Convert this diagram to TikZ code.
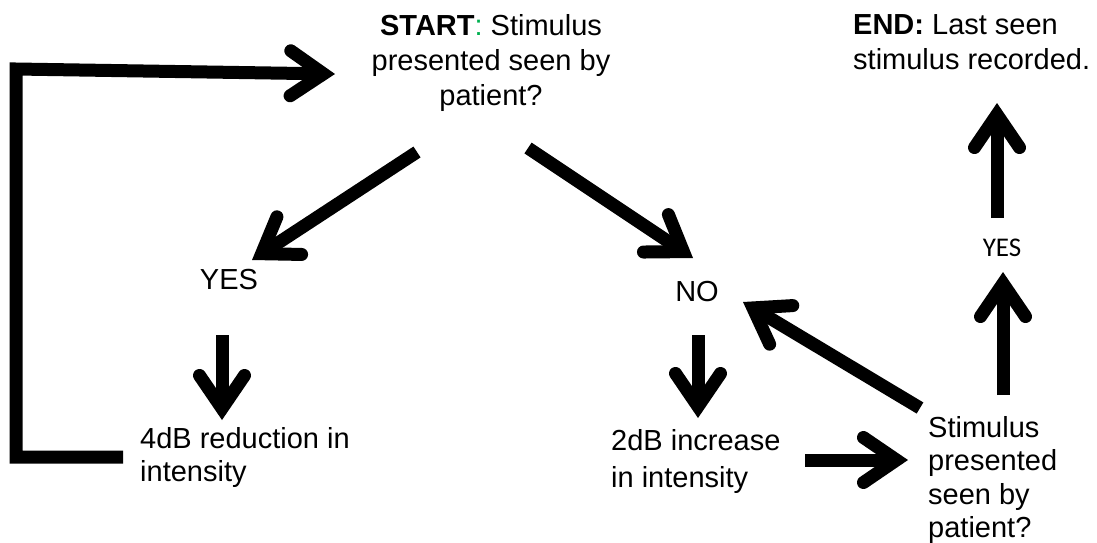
\documentclass[tikz,border=0pt]{standalone}
\usepackage{fontspec}
\setmainfont{Liberation Sans}
\newfontfamily\calfont{Carlito}
\usetikzlibrary{arrows.meta}
\definecolor{colgreen}{RGB}{0,176,80}
\tikzset{
  arr/.style={line width=13pt, line join=miter,
    -{Straight Barb[length=33pt,width=45pt,line cap=round,line join=miter]}},
  txt/.style={inner sep=0pt, font=\fontsize{29}{35}\selectfont},
}
\begin{document}
\begin{tikzpicture}[x=1pt,y=-1pt]
\useasboundingbox (0,0) rectangle (1097,542);
% texts
\node[txt, align=center, anchor=north] (start) at (491,14)
  {\textbf{START}\textcolor{colgreen}{:} Stimulus\\presented seen by\\patient?};
\node[txt, align=left, anchor=north west] (end) at (853,14)
  {\textbf{END:} Last seen\\stimulus recorded.};
\node[txt, anchor=base] (yes1) at (229,289) {YES};
\node[txt, anchor=base] (no) at (697,301) {NO};
\node[inner sep=0pt, font=\calfont\fontsize{27}{30}\selectfont, anchor=base] (yes2) at (1002,256) {YES};
\node[txt, font=\fontsize{29}{33}\selectfont, align=left, anchor=north west] (red) at (140,427)
  {4dB reduction in\\intensity};
\node[txt, font=\fontsize{29}{37}\selectfont, align=left, anchor=north west] (inc) at (611,429)
  {2dB increase\\in intensity};
\node[txt, font=\fontsize{29}{33.5}\selectfont, align=left, anchor=north west] (stim) at (928,416)
  {Stimulus\\presented\\seen by\\patient?};
% arrow end points
\coordinate (l1) at (123,457);
\coordinate (l2) at (16,457);
\coordinate (l3) at (16,69);
\coordinate (l4) at (335,74);
\coordinate (a1) at (417,152);
\coordinate (a2) at (252,260);
\coordinate (b1) at (528,148);
\coordinate (b2) at (693,258);
\coordinate (c1) at (222,335);
\coordinate (c2) at (222,420);
\coordinate (d1) at (698,335);
\coordinate (d2) at (698,418);
\coordinate (e1) at (805,460);
\coordinate (e2) at (908,460);
\coordinate (f1) at (920,408);
\coordinate (f2) at (743,302);
\coordinate (g1) at (1003,395);
\coordinate (g2) at (1003,272);
\coordinate (h1) at (997,218);
\coordinate (h2) at (997,103);
% arrows
\draw[arr] (l1) -- (l2) -- (l3) -- (l4);
\draw[arr] (a1) -- (a2);
\draw[arr] (b1) -- (b2);
\draw[arr] (c1) -- (c2);
\draw[arr] (d1) -- (d2);
\draw[arr] (e1) -- (e2);
\draw[arr] (f1) -- (f2);
\draw[arr] (g1) -- (g2);
\draw[arr] (h1) -- (h2);
\end{tikzpicture}
\end{document}
